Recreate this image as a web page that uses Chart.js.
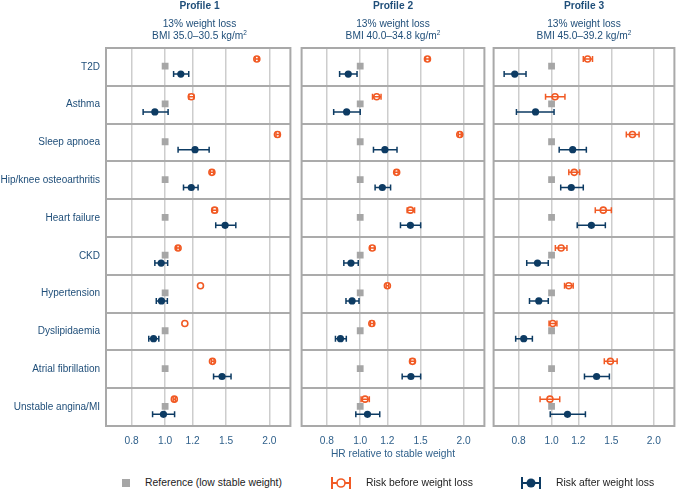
<!DOCTYPE html>
<html>
<head>
<meta charset="utf-8">
<script src="https://cdn.jsdelivr.net/npm/chart.js@4.4.1/dist/chart.umd.min.js"></script>
<style>
  body { margin: 0; background: #fff; font-family: "Liberation Sans", Arial, sans-serif; }
  #wrap { position: relative; width: 680px; height: 492px; overflow: hidden; }
  #wrap canvas { position: absolute; top: 0; }
  .head { position: absolute; top: 0; text-align: center; color: #1f4e79; font-size: 10.2px; }
  .head b { display: block; line-height: 11px; margin-bottom: 7px; }
  .head span { display: block; line-height: 11.5px; }
  .head sup { font-size: 6.5px; vertical-align: 4px; line-height: 0; }
  #xtitle { position: absolute; top: 448px; left: 299px; width: 188px; text-align: center; color: #2e5f8a; font-size: 10.2px; }
  .lg { position: absolute; top: 477px; font-size: 10.4px; color: #222; line-height: 12px; }
</style>
</head>
<body>
<div id="wrap">
  <canvas id="c1" width="296" height="450" style="left:0"></canvas>
  <canvas id="c2" width="194" height="450" style="left:296px"></canvas>
  <canvas id="c3" width="192" height="450" style="left:488px"></canvas>
  <div class="head" style="left:106px;width:187px"><b>Profile 1</b><span>13% weight loss</span><span>BMI 35.0–30.5 kg/m<sup>2</sup></span></div>
  <div class="head" style="left:299px;width:188px"><b>Profile 2</b><span>13% weight loss</span><span>BMI 40.0–34.8 kg/m<sup>2</sup></span></div>
  <div class="head" style="left:491px;width:186px"><b>Profile 3</b><span>13% weight loss</span><span>BMI 45.0–39.2 kg/m<sup>2</sup></span></div>
  <div id="xtitle">HR relative to stable weight</div>
  <div class="lg" style="left:122px;top:479px;width:8px;height:8px;background:#a6a6a6"></div>
  <div class="lg" style="left:145px">Reference (low stable weight)</div>
  <svg class="lg" style="left:331px;top:476px" width="20" height="14"><line x1="1" y1="1" x2="1" y2="13" stroke="#f15a24" stroke-width="2"/><line x1="19" y1="1" x2="19" y2="13" stroke="#f15a24" stroke-width="2"/><line x1="1" y1="7" x2="19" y2="7" stroke="#f15a24" stroke-width="2"/><circle cx="10" cy="7" r="4" fill="#fff" stroke="#f15a24" stroke-width="1.6"/></svg>
  <div class="lg" style="left:366px">Risk before weight loss</div>
  <svg class="lg" style="left:521px;top:476px" width="20" height="14"><line x1="1" y1="1" x2="1" y2="13" stroke="#0d3b63" stroke-width="2"/><line x1="19" y1="1" x2="19" y2="13" stroke="#0d3b63" stroke-width="2"/><line x1="1" y1="7" x2="19" y2="7" stroke="#0d3b63" stroke-width="2"/><circle cx="10" cy="7" r="4.5" fill="#0d3b63"/></svg>
  <div class="lg" style="left:556px">Risk after weight loss</div>
</div>
<script>
const outcomes = ['T2D', 'Asthma', 'Sleep apnoea', 'Hip/knee osteoarthritis', 'Heart failure',
  'CKD', 'Hypertension', 'Dyslipidaemia', 'Atrial fibrillation', 'Unstable angina/MI'];
const xTicks = [0.8, 1.0, 1.2, 1.5, 2.0];
const refValue = [1, 1, 1, 1, 1, 1, 1, 1, 1, 1];

// Profile 1
const before1   = [1.84, 1.19, 2.11, 1.365, 1.39, 1.09, 1.265, 1.14, 1.37, 1.063];
const before1Lo = [1.82, 1.17, 2.09, 1.35, 1.37, 1.08, null, null, 1.36, 1.055];
const before1Hi = [1.86, 1.21, 2.14, 1.38, 1.41, 1.10, null, null, 1.385, 1.07];
const after1    = [1.11, 0.934, 1.22, 1.19, 1.49, 0.974, 0.976, 0.926, 1.46, 0.989];
const after1Lo  = [1.058, 0.864, 1.09, 1.13, 1.40, 0.934, 0.943, 0.897, 1.38, 0.92];
const after1Hi  = [1.17, 1.02, 1.34, 1.245, 1.60, 1.017, 1.015, 0.959, 1.55, 1.065];

// Profile 2
const before2   = [1.57, 1.117, 1.95, 1.277, 1.40, 1.084, 1.20, 1.081, 1.42, 1.033];
const before2Lo = [1.55, 1.086, 1.93, 1.26, 1.37, 1.07, 1.19, 1.07, 1.40, 1.006];
const before2Hi = [1.59, 1.15, 1.97, 1.29, 1.44, 1.10, 1.21, 1.095, 1.44, 1.063];
const after2    = [0.923, 0.913, 1.18, 1.16, 1.40, 0.94, 0.947, 0.876, 1.405, 1.05];
const after2Lo  = [0.871, 0.837, 1.093, 1.105, 1.31, 0.896, 0.909, 0.847, 1.325, 0.971];
const after2Hi  = [0.979, 1.0, 1.28, 1.226, 1.50, 0.987, 0.992, 0.911, 1.50, 1.14];

// Profile 3
const before3   = [1.277, 1.024, 1.73, 1.166, 1.42, 1.067, 1.124, 1.008, 1.49, 0.989];
const before3Lo = [1.24, 0.96, 1.66, 1.124, 1.345, 1.026, 1.092, 0.983, 1.43, 0.925];
const before3Hi = [1.32, 1.095, 1.81, 1.21, 1.50, 1.11, 1.158, 1.037, 1.56, 1.057];
const after3    = [0.779, 0.897, 1.154, 1.143, 1.31, 0.909, 0.917, 0.828, 1.357, 1.114];
const after3Lo  = [0.725, 0.788, 1.053, 1.064, 1.19, 0.845, 0.861, 0.784, 1.25, 0.991];
const after3Hi  = [0.841, 1.017, 1.266, 1.24, 1.44, 0.978, 0.978, 0.878, 1.48, 1.258];

const ORANGE = '#f15a24', NAVY = '#0d3b63', GREY = '#a6a6a6';
const OFF_BEFORE = -0.21, OFF_REF = -0.02, OFF_AFTER = 0.19;

function points(vals, off) {
  return vals.map((v, i) => ({ x: v, y: i + off }));
}
// error bars as line segments broken by null points
function bars(lo, hi, off) {
  const pts = [];
  lo.forEach((l, i) => {
    if (l == null) return;
    pts.push({ x: l, y: i + off }, { x: hi[i], y: i + off }, { x: null, y: null });
  });
  return pts;
}

const frame = {
  id: 'frame',
  beforeDatasetsDraw(chart) {
    const { ctx, chartArea: a } = chart;
    ctx.save();
    ctx.strokeStyle = '#a9a9a9';
    ctx.lineWidth = 2;
    ctx.strokeRect(a.left, a.top, a.right - a.left, a.bottom - a.top);
    ctx.restore();
  }
};

function panel(id, before, bLo, bHi, after, aLo, aHi, showLabels, pad) {
  const ctx = document.getElementById(id).getContext('2d');
  new Chart(ctx, {
    type: 'scatter',
    data: {
      datasets: [
        { data: bars(bLo, bHi, OFF_BEFORE), showLine: true, borderColor: ORANGE, borderWidth: 1.5,
          pointStyle: 'line', rotation: 90, pointRadius: 3, pointBorderWidth: 1.5, pointBorderColor: ORANGE, order: 0 },
        { data: points(before, OFF_BEFORE), pointStyle: 'circle', pointRadius: 3, pointBorderWidth: 1.6,
          pointBorderColor: ORANGE, pointBackgroundColor: '#fff', order: 1 },
        { data: points(after, OFF_AFTER), pointStyle: 'circle', pointRadius: 3.6, pointBorderWidth: 0,
          pointBackgroundColor: NAVY, order: 2 },
        { data: bars(aLo, aHi, OFF_AFTER), showLine: true, borderColor: NAVY, borderWidth: 1.5,
          pointStyle: 'line', rotation: 90, pointRadius: 3, pointBorderWidth: 1.5, pointBorderColor: NAVY, order: 3 },
        { data: points(refValue, OFF_REF), pointStyle: 'rect', pointRadius: 4.8, pointBorderWidth: 0,
          pointBackgroundColor: GREY, order: 4 }
      ]
    },
    options: {
      responsive: false,
      animation: false,
      layout: { padding: pad },
      plugins: { legend: { display: false }, tooltip: { enabled: false } },
      scales: {
        x: {
          type: 'logarithmic', min: 0.675, max: 2.3,
          afterBuildTicks: s => { s.ticks = xTicks.map(v => ({ value: v })); },
          grid: { color: '#cdcdcd', lineWidth: 1.5, drawTicks: false, tickLength: 0 },
          border: { display: false },
          ticks: { color: '#2e5f8a', font: { size: 10.2, family: '"Liberation Sans", Arial' }, padding: 9,
            autoSkip: false, maxRotation: 0, callback: v => Number(v).toFixed(1) },
          afterFit: s => { s.height = 24; }
        },
        y: {
          type: 'linear', reverse: true, min: -0.5, max: 9.5, weight: 1,
          afterBuildTicks: s => { s.ticks = outcomes.map((_, i) => ({ value: i })); },
          grid: { display: false, drawTicks: false, tickLength: 0 },
          border: { display: false },
          ticks: { display: showLabels, color: '#1f4e79', padding: 6,
            font: { size: 10, family: '"Liberation Sans", Arial' }, callback: v => outcomes[v] },
          afterFit: s => { s.width = showLabels ? 106 : 0; }
        },
        rows: {
          type: 'linear', position: 'left', reverse: true, min: -0.5, max: 9.5, weight: 0,
          afterBuildTicks: s => { s.ticks = outcomes.map((_, i) => ({ value: i - 0.5 })).concat([{ value: 9.5 }]); },
          grid: { color: '#ababab', lineWidth: 2, drawTicks: false, tickLength: 0 },
          border: { display: false },
          ticks: { display: false },
          afterFit: s => { s.width = 0; }
        }
      }
    },
    plugins: [frame]
  });
}

panel('c1', before1, before1Lo, before1Hi, after1, after1Lo, after1Hi, true, { top: 48, left: 0, right: 3, bottom: 0 });
panel('c2', before2, before2Lo, before2Hi, after2, after2Lo, after2Hi, false, { top: 48, left: 3, right: 4, bottom: 0 });
panel('c3', before3, before3Lo, before3Hi, after3, after3Lo, after3Hi, false, { top: 48, left: 3, right: 3, bottom: 0 });
</script>
</body>
</html>
